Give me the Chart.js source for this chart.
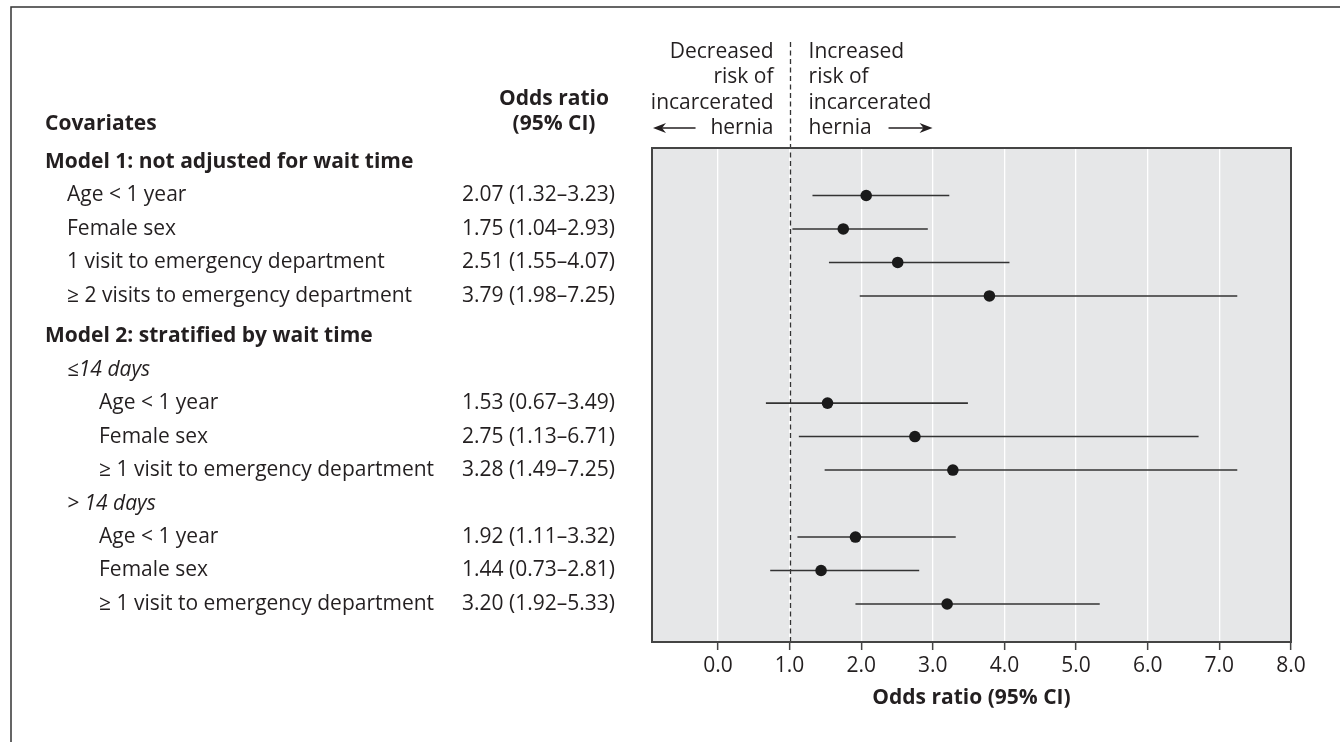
<!DOCTYPE html>
<html>
<head>
<meta charset="utf-8">
<title>Odds ratios for incarcerated hernia</title>
<script src="https://cdn.jsdelivr.net/npm/chart.js@4.4.1/dist/chart.umd.min.js"></script>
<style>
  html, body { margin: 0; padding: 0; background: #fff; }
  #wrap { width: 1340px; height: 742px; }
</style>
</head>
<body>
<div id="wrap"><canvas id="forestChart" width="1340" height="742"></canvas></div>
<script>
// rows of the table, top to bottom
const rowLabels = [
    'Model 1: not adjusted for wait time',
    'Age < 1 year',
    'Female sex',
    '1 visit to emergency department',
    '\u2265 2 visits to emergency department',
    'Model 2: stratified by wait time',
    '\u226414 days',
    'Age < 1 year',
    'Female sex',
    '\u2265 1 visit to emergency department',
    '> 14 days',
    'Age < 1 year',
    'Female sex',
    '\u2265 1 visit to emergency department'
];
const rowLevels = [0, 1, 1, 1, 1, 0, 1, 2, 2, 2, 1, 2, 2, 2];
const rowKinds = ['model', 'item', 'item', 'item', 'item', 'model', 'stratum', 'item', 'item', 'item', 'stratum', 'item', 'item', 'item'];
const rowModel = [0, 0, 0, 0, 0, 1, 1, 1, 1, 1, 1, 1, 1, 1];

const oddsRatio = [null, 2.07, 1.75, 2.51, 3.79, null, null, 1.53, 2.75, 3.28, null, 1.92, 1.44, 3.20];
const ciLow     = [null, 1.32, 1.04, 1.55, 1.98, null, null, 0.67, 1.13, 1.49, null, 1.11, 0.73, 1.92];
const ciHigh    = [null, 3.23, 2.93, 4.07, 7.25, null, null, 3.49, 6.71, 7.25, null, 3.32, 2.81, 5.33];

const xTicks = [0, 1, 2, 3, 4, 5, 6, 7, 8];

const leftNote = ['Decreased', 'risk of', 'incarcerated', 'hernia'];
const rightNote = ['Increased', 'risk of', 'incarcerated', 'hernia'];

const textColor = '#231f20';
const fontFamily = '"Open Sans", sans-serif';
const fontSize = 21;
const modelGap = 0.2; // extra space (in rows) before model 2

Chart.defaults.font.family = fontFamily;
Chart.defaults.font.size = fontSize;
Chart.defaults.color = textColor;

function rowY(i) {
    return i + rowModel[i] * modelGap;
}

function orLabel(i) {
    return oddsRatio[i].toFixed(2) + ' (' + ciLow[i].toFixed(2) + '\u2013' + ciHigh[i].toFixed(2) + ')';
}

const pointData = [];
const whiskerSets = [];
oddsRatio.forEach((v, i) => {
    if (v === null) return;
    pointData.push({ x: v, y: rowY(i) });
    whiskerSets.push({
        data: [{ x: ciLow[i], y: rowY(i) }, { x: ciHigh[i], y: rowY(i) }],
        showLine: true,
        borderColor: '#333333',
        borderWidth: 1.6,
        pointRadius: 0,
        order: 2
    });
});

function arrow(ctx, x1, x2, y) {
    const dir = Math.sign(x2 - x1);
    ctx.beginPath();
    ctx.moveTo(x1, y);
    ctx.lineTo(x2 - dir * 8, y);
    ctx.stroke();
    ctx.beginPath();
    ctx.moveTo(x2, y);
    ctx.lineTo(x2 - dir * 13, y - 5);
    ctx.lineTo(x2 - dir * 9, y);
    ctx.lineTo(x2 - dir * 13, y + 5);
    ctx.closePath();
    ctx.fill();
}

const forestDecor = {
    id: 'forestDecor',
    beforeDraw(chart) {
        const { ctx, chartArea: a } = chart;
        ctx.save();
        ctx.fillStyle = '#e6e7e8';
        ctx.fillRect(a.left, a.top, a.right - a.left, a.bottom - a.top);
        ctx.restore();
    },
    beforeDatasetsDraw(chart) {
        const { ctx, chartArea: a } = chart;
        const x = Math.round(chart.scales.x.getPixelForValue(1)) + 0.5;
        ctx.save();
        ctx.strokeStyle = '#333';
        ctx.lineWidth = 1.3;
        ctx.setLineDash([5, 3.5]);
        ctx.beginPath();
        ctx.moveTo(x, 42);
        ctx.lineTo(x, a.bottom);
        ctx.stroke();
        ctx.restore();
    },
    afterDraw(chart) {
        const { ctx, chartArea: a } = chart;
        const ys = chart.scales.y;
        const xRef = chart.scales.x.getPixelForValue(1);
        ctx.save();

        // plot frame
        ctx.strokeStyle = '#444';
        ctx.lineWidth = 2;
        ctx.strokeRect(a.left, a.top, a.right - a.left, a.bottom - a.top);

        // figure frame (top and left rules)
        ctx.strokeStyle = '#333';
        ctx.lineWidth = 1.5;
        ctx.beginPath();
        ctx.moveTo(1340, 7);
        ctx.lineTo(11, 7);
        ctx.lineTo(11, 742);
        ctx.stroke();

        ctx.fillStyle = textColor;
        ctx.textBaseline = 'middle';

        // table headers
        ctx.font = 'bold ' + fontSize + 'px ' + fontFamily;
        ctx.textAlign = 'left';
        ctx.fillText('Covariates', 45, 124);
        ctx.textAlign = 'center';
        ctx.fillText('Odds ratio', 554, 99);
        ctx.fillText('(95% CI)', 554, 124);

        // table rows
        const indent = [45, 67, 99];
        rowLabels.forEach((label, i) => {
            const y = ys.getPixelForValue(rowY(i));
            if (rowKinds[i] === 'model') ctx.font = 'bold ' + fontSize + 'px ' + fontFamily;
            else if (rowKinds[i] === 'stratum') ctx.font = 'italic ' + fontSize + 'px ' + fontFamily;
            else ctx.font = fontSize + 'px ' + fontFamily;
            ctx.textAlign = 'left';
            ctx.fillText(label, indent[rowLevels[i]], y);
            if (oddsRatio[i] !== null) {
                ctx.font = fontSize + 'px ' + fontFamily;
                ctx.textAlign = 'right';
                ctx.fillText(orLabel(i), 615, y);
            }
        });

        // risk direction notes above the plot
        ctx.font = fontSize + 'px ' + fontFamily;
        leftNote.forEach((t, k) => {
            const y = a.top - 20 - (leftNote.length - 1 - k) * 25.3;
            ctx.textAlign = 'right';
            ctx.fillText(t, xRef - 16, y);
            ctx.textAlign = 'left';
            ctx.fillText(rightNote[k], xRef + 19, y);
        });
        ctx.strokeStyle = textColor;
        ctx.lineWidth = 1.5;
        arrow(ctx, xRef - 94, a.left + 1, a.top - 20);
        arrow(ctx, xRef + 99, xRef + 143, a.top - 20);

        ctx.restore();
    }
};

new Chart(document.getElementById('forestChart'), {
    type: 'scatter',
    data: {
        datasets: [
            {
                data: pointData,
                pointRadius: 5.8,
                pointHoverRadius: 5.8,
                backgroundColor: '#1a1a1a',
                borderWidth: 0,
                order: 1
            },
            ...whiskerSets
        ]
    },
    options: {
        responsive: false,
        animation: false,
        layout: { padding: { left: 652, right: 49, top: 148, bottom: 0 } },
        plugins: {
            legend: { display: false },
            tooltip: { enabled: false }
        },
        scales: {
            x: {
                type: 'linear',
                min: -0.92,
                max: 8,
                afterBuildTicks: (scale) => { scale.ticks = xTicks.map(v => ({ value: v })); },
                afterFit: (scale) => { scale.height = 100; },
                grid: {
                    color: '#ffffff',
                    lineWidth: 1.3,
                    drawTicks: true,
                    tickLength: 8,
                    tickColor: '#444',
                    tickWidth: 1.5
                },
                border: { display: false },
                ticks: {
                    padding: 3,
                    color: textColor,
                    font: { size: fontSize },
                    maxRotation: 0,
                    callback: (value) => Number(value).toFixed(1)
                },
                title: {
                    display: true,
                    text: 'Odds ratio (95% CI)',
                    color: textColor,
                    font: { size: fontSize, weight: 'bold' },
                    padding: { top: 0, bottom: 31 }
                }
            },
            y: {
                type: 'linear',
                display: false,
                reverse: true,
                min: -0.418,
                max: 14.335
            }
        }
    },
    plugins: [forestDecor]
});
</script>
</body>
</html>
